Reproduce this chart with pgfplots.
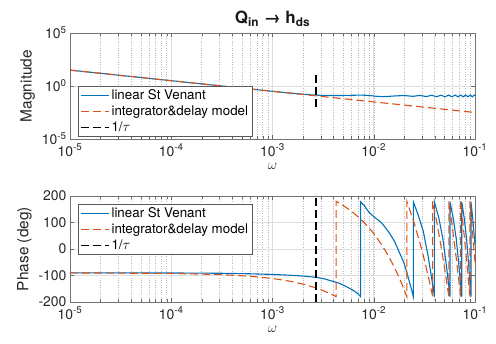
\documentclass[border=0pt]{standalone}
\usepackage{amsmath}
\usepackage{fontspec}
\setmainfont{TeX Gyre Heros}
\usepackage{pgfplots}
\pgfplotsset{compat=1.18}
\definecolor{mblue}{rgb}{0,0.447,0.741}
\definecolor{morange}{rgb}{0.85,0.325,0.098}
\pgfplotsset{
  legend image code/.code={\draw[#1, line width=1.2bp] (0bp,0bp) -- (28bp,0bp);},
}
\begin{document}
\begin{tikzpicture}
\useasboundingbox (-70bp,-42bp) rectangle (426bp,302bp);
% ---------- Magnitude ----------
\begin{axis}[scale only axis, width=405bp, height=106bp,
  xmode=log, xmin=1e-5, xmax=1e-1,
  xtick={1e-5,1e-4,1e-3,1e-2,1e-1},
  xticklabels={10\textsuperscript{-5},10\textsuperscript{-4},10\textsuperscript{-3},10\textsuperscript{-2},10\textsuperscript{-1}},
  xticklabel style={yshift=-1.5bp},
  xmajorgrids, xminorgrids, ymajorgrids,
  major grid style={draw=black!13, line width=0.6bp},
  minor grid style={draw=black!28, dotted, line width=0.5bp},
  axis line style={draw=black!55, line width=0.6bp},
  tick style={draw=black!60},
  tick label style={font=\fontsize{14}{16}\selectfont, text=black!85},
  label style={font=\fontsize{15.5}{18}\selectfont, text=black!85},
  xlabel={$\omega$},
  legend cell align=left,
  legend style={font=\fontsize{13.4}{15}\selectfont, draw=black!65, line width=0.7bp,
    fill=white, inner xsep=2bp, inner ysep=1.5bp, row sep=0.8bp,
    at={(0.0198,0.019)}, anchor=south west},
  at={(0bp,163bp)},
  ymode=log, ymin=1e-5, ymax=1e5,
  ytick={1e-5,1,1e5}, yminorticks=false,
  yticklabels={10\textsuperscript{-5},10\textsuperscript{0},10\textsuperscript{5}},
  ylabel={Magnitude},
  title={\textbf{Q\textsubscript{in} → h\textsubscript{ds}}},
  title style={font=\fontsize{17}{19}\selectfont, text=black!90, yshift=-3bp},
]
\addplot[mblue, line width=1.1bp] coordinates {
(1e-5,31.62) (1e-4,3.162) (1e-3,0.3162) (1.5e-3,0.215) (2e-3,0.166) (2.5e-3,0.142)
(3e-3,0.132) (3.5e-3,0.128) (4.5e-3,0.126) (5.5e-3,0.13) (6.5e-3,0.135) (7.5e-3,0.138)
(8.5e-3,0.132) (9.5e-3,0.12) (1.05e-2,0.108) (1.2e-2,0.1) (1.35e-2,0.102) (1.5e-2,0.11)
(1.7e-2,0.118) (2.0e-2,0.126) (2.435e-2,0.106) (2.87e-2,0.13) (3.305e-2,0.1)
(3.74e-2,0.135) (4.175e-2,0.097) (4.61e-2,0.138) (5.045e-2,0.095) (5.48e-2,0.14)
(5.915e-2,0.095) (6.35e-2,0.14) (6.785e-2,0.095) (7.22e-2,0.14) (7.655e-2,0.095)
(8.09e-2,0.14) (8.525e-2,0.095) (8.96e-2,0.14) (9.395e-2,0.095) (9.83e-2,0.14) (1e-1,0.125)
};
\addlegendentry{linear St Venant}
\addplot[morange, line width=1.1bp, dash pattern=on 8bp off 4bp] coordinates {(1e-5,31.62) (1e-1,3.162e-3)};
\addlegendentry{integrator\&delay model}
\addplot[black, line width=1.1bp, dash pattern=on 8bp off 4bp] coordinates {(2.69e-3,10) (2.69e-3,7.9e-3)};
\addlegendentry{1/$\tau$}
\end{axis}
% ---------- Phase ----------
\begin{axis}[scale only axis, width=405bp, height=106bp,
  xmode=log, xmin=1e-5, xmax=1e-1,
  xtick={1e-5,1e-4,1e-3,1e-2,1e-1},
  xticklabels={10\textsuperscript{-5},10\textsuperscript{-4},10\textsuperscript{-3},10\textsuperscript{-2},10\textsuperscript{-1}},
  xticklabel style={yshift=-1.5bp},
  xmajorgrids, xminorgrids, ymajorgrids,
  major grid style={draw=black!13, line width=0.6bp},
  minor grid style={draw=black!28, dotted, line width=0.5bp},
  axis line style={draw=black!55, line width=0.6bp},
  tick style={draw=black!60},
  tick label style={font=\fontsize{14}{16}\selectfont, text=black!85},
  label style={font=\fontsize{15.5}{18}\selectfont, text=black!85},
  xlabel={$\omega$},
  legend cell align=left,
  legend style={font=\fontsize{13.4}{15}\selectfont, draw=black!65, line width=0.7bp,
    fill=white, inner xsep=2bp, inner ysep=1.5bp, row sep=0.8bp,
    at={(0.0198,0.925)}, anchor=north west},
  /pgf/number format/assume math mode=true,
  at={(0bp,0bp)},
  ymin=-200, ymax=200, ytick={-200,-100,0,100,200},
  ylabel={Phase (deg)},
]
\addplot[mblue, line width=1.1bp] coordinates {
(1e-5,-90) (1e-4,-90.5) (3e-4,-91.5) (6e-4,-93.5) (1e-3,-96) (1.5e-3,-99) (2e-3,-102)
(2.7e-3,-107) (3.2e-3,-112) (3.7e-3,-119) (4.4e-3,-127) (5e-3,-136) (5.5e-3,-144)
(6e-3,-152) (6.5e-3,-160) (7e-3,-169) (7.43e-3,-180)
(7.43e-3,178) (8e-3,165) (9e-3,138) (1.0e-2,122) (1.1e-2,110) (1.2e-2,98) (1.4e-2,65)
(1.6e-2,30) (1.8e-2,-15) (2.0e-2,-55) (2.2e-2,-110) (2.35e-2,-150) (2.46e-2,-180)
(2.46e-2,178) (2.75e-2,128) (3.08e-2,68) (3.45e-2,-29) (3.85e-2,-142) (3.97e-2,-180)
(3.97e-2,178) (4.39e-2,118) (4.82e-2,38) (5.24e-2,-68) (5.66e-2,-180)
(5.66e-2,178) (6.09e-2,118) (6.53e-2,38) (6.96e-2,-68) (7.39e-2,-180)
(7.39e-2,178) (7.82e-2,118) (8.26e-2,38) (8.69e-2,-68) (9.12e-2,-180)
(9.12e-2,178) (9.5e-2,115) (1e-1,15)
};
\addlegendentry{linear St Venant}
\addplot[morange, line width=1.1bp, dash pattern=on 8bp off 4bp] coordinates {
(1e-5,-90.2) (1e-4,-92.1) (3e-4,-96.4) (6e-4,-102.7) (1e-3,-111.2) (1.5e-3,-121.8)
(2e-3,-132.4) (2.5e-3,-143.0) (3e-3,-153.6) (3.5e-3,-164.2) (4e-3,-174.8) (4.245e-3,-180)
(4.245e-3,180) (5e-3,164.0) (6e-3,142.8) (7e-3,121.6) (8e-3,100.4) (9e-3,79.2)
(1e-2,58.0) (1.2e-2,15.6) (1.4e-2,-26.8) (1.6e-2,-69.2) (1.8e-2,-111.6) (2e-2,-154.0)
(2.1227e-2,-180)
(2.1227e-2,180) (2.5e-2,100.0) (3e-2,-6.0) (3.5e-2,-112.0) (3.821e-2,-180)
(3.821e-2,180) (4.2e-2,99.7) (4.6e-2,14.9) (5.0e-2,-69.9) (5.519e-2,-180)
(5.519e-2,180) (6e-2,78.0) (6.6e-2,-49.2) (7.217e-2,-180)
(7.217e-2,180) (8e-2,14.0) (8.915e-2,-180)
(8.915e-2,180) (1e-1,-50.0)
};
\addlegendentry{integrator\&delay model}
\addplot[black, line width=1.1bp, dash pattern=on 8bp off 4bp] coordinates {(2.69e-3,-200) (2.69e-3,200)};
\addlegendentry{1/$\tau$}
\end{axis}
\end{tikzpicture}
\end{document}
